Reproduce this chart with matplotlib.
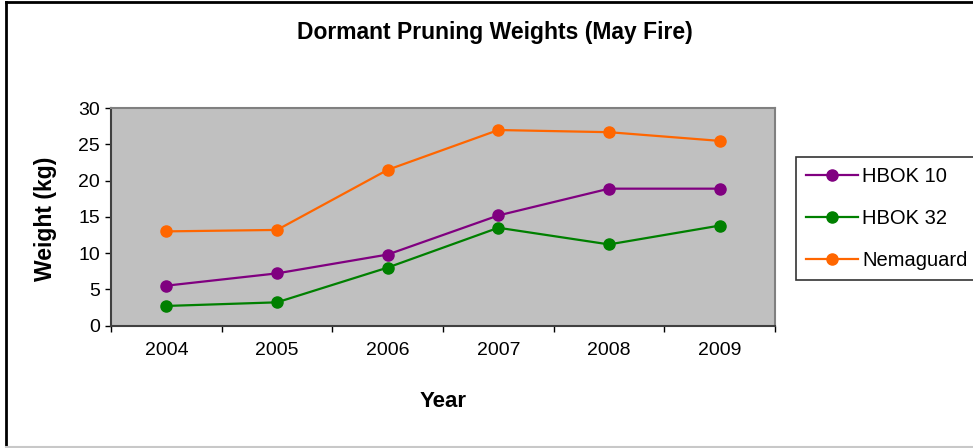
import matplotlib
matplotlib.use("Agg")
import matplotlib.pyplot as plt
from matplotlib.lines import Line2D

plt.rcParams['font.family'] = ['Liberation Sans', 'DejaVu Sans']

years = ["2004", "2005", "2006", "2007", "2008", "2009"]
hbok10 = [5.5, 7.2, 9.8, 15.2, 18.9, 18.9]
hbok32 = [2.7, 3.2, 8.0, 13.5, 11.2, 13.8]
nemaguard = [13.0, 13.2, 21.5, 27.0, 26.7, 25.5]
series_names = ["HBOK 10", "HBOK 32", "Nemaguard"]
colors = ["#800080", "#008000", "#FF6600"]

W, H = 973, 448
fig = plt.figure(figsize=(W / 100, H / 100), dpi=100)
ax = fig.add_axes([111 / W, 1 - 325.5 / H, 664 / W, 217.2 / H])
ax.set_facecolor("#C0C0C0")

x = list(range(len(years)))
for vals, name, c in zip([hbok10, hbok32, nemaguard], series_names, colors):
    ax.plot(x, vals, color=c, lw=1.6, marker='o', ms=8, label=name)

ax.set_xlim(-0.5, len(years) - 0.5)
ax.set_ylim(0, 30)
ax.set_yticks(range(0, 31, 5))
ax.set_xticks([i - 0.5 for i in range(len(years) + 1)])
ax.set_xticklabels([])
ax.set_xticks(x, minor=True)
ax.set_xticklabels(years, minor=True)
ax.tick_params(axis='x', which='major', direction='out', length=4, width=1, color='black')
ax.tick_params(axis='x', which='minor', length=0, pad=12, labelsize=14)
ax.tick_params(axis='y', direction='out', length=4, width=1, color='black', labelsize=14, pad=4)

for s in ax.spines.values():
    s.set_color('#808080')
    s.set_linewidth(1.5)
ax.spines['bottom'].set_color('#404040')
ax.spines['left'].set_color('#404040')

fig.text(495 / W, 1 - 33 / H, "Dormant Pruning Weights (May Fire)", ha='center', va='center',
         fontsize=16.5, fontweight='bold')
fig.text(45.5 / W, 1 - 219 / H, "Weight (kg)", rotation=90, ha='center', va='center',
         fontsize=16.5, fontweight='bold')
fig.text(443 / W, 1 - 401 / H, "Year", ha='center', va='center', fontsize=16, fontweight='bold')

leg = fig.legend(loc='upper left', bbox_to_anchor=(796 / W, 1 - 157 / H), fontsize=14.5,
                 frameon=True, fancybox=False, edgecolor='black', handlelength=2.6,
                 borderpad=0.5, labelspacing=1.15, handletextpad=0.2, borderaxespad=0)
leg.get_frame().set_linewidth(1.2)

# outer chart border
fig.add_artist(Line2D([5.5 / W, 1], [1 - 2.5 / H, 1 - 2.5 / H], color='black', lw=2, transform=fig.transFigure))
fig.add_artist(Line2D([5.5 / W, 5.5 / W], [1 - 2.5 / H, 1 - 446.5 / H], color='black', lw=2, transform=fig.transFigure))
fig.add_artist(Line2D([5.5 / W, 1], [1 - 446.5 / H, 1 - 446.5 / H], color='#C8C8C8', lw=1.5, transform=fig.transFigure))

fig.savefig("out.png", dpi=100)
